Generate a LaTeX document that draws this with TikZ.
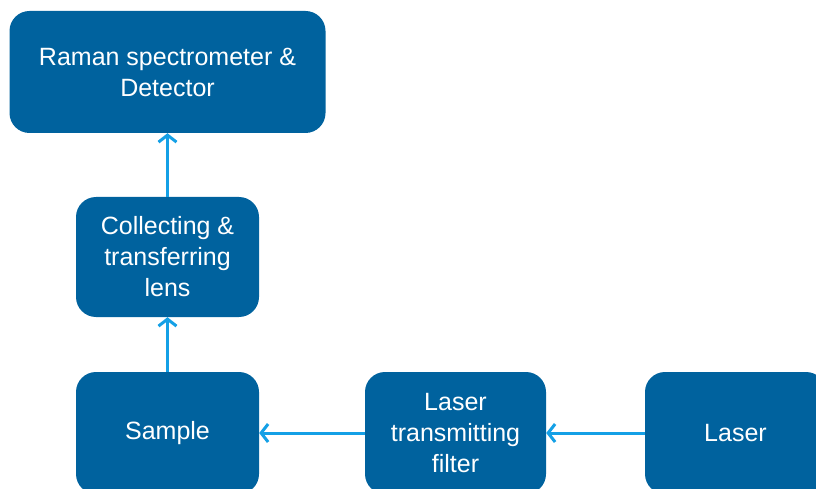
\documentclass[tikz,border=0pt]{standalone}
\usepackage{fontspec}
\setmainfont{Liberation Sans}
\usetikzlibrary{arrows.meta}
\definecolor{boxblue}{RGB}{0,98,158}
\definecolor{arrowblue}{RGB}{20,160,230}
\tikzset{
  block/.style={draw=none, fill=boxblue, rounded corners=20pt, text=white,
    align=center, inner sep=0pt, font=\fontsize{25}{31}\selectfont},
  flow/.style={draw=arrowblue, line width=3pt,
    -{Straight Barb[length=7pt,width=18pt,line width=3pt]}}
}
\begin{document}
\begin{tikzpicture}[x=1pt,y=1pt]
  \useasboundingbox (0,0) rectangle (816,-489);
  \begin{scope}
  \clip (0,0) rectangle (816,-489);
  \node[block, minimum width=316pt, minimum height=122pt] (raman) at (167.5,-72) {Raman spectrometer \&\\Detector};
  \node[block, minimum width=183pt, minimum height=120pt] (collect) at (167.5,-257) {Collecting \&\\transferring\\lens};
  \node[block, minimum width=183pt, minimum height=122pt] (sample) at (167.5,-433) {Sample};
  \node[block, minimum width=181pt, minimum height=122pt] (filter) at (455.5,-433) {Laser\\transmitting\\filter};
  \node[block, minimum width=181pt, minimum height=122pt] (laser) at (735.5,-433) {Laser};
  \end{scope}
  % light path
  \draw[flow] (laser) -- (filter);
  \draw[flow] (filter) -- (sample);
  \draw[flow] (sample) -- (collect);
  \draw[flow] (collect) -- (raman);
\end{tikzpicture}
\end{document}
